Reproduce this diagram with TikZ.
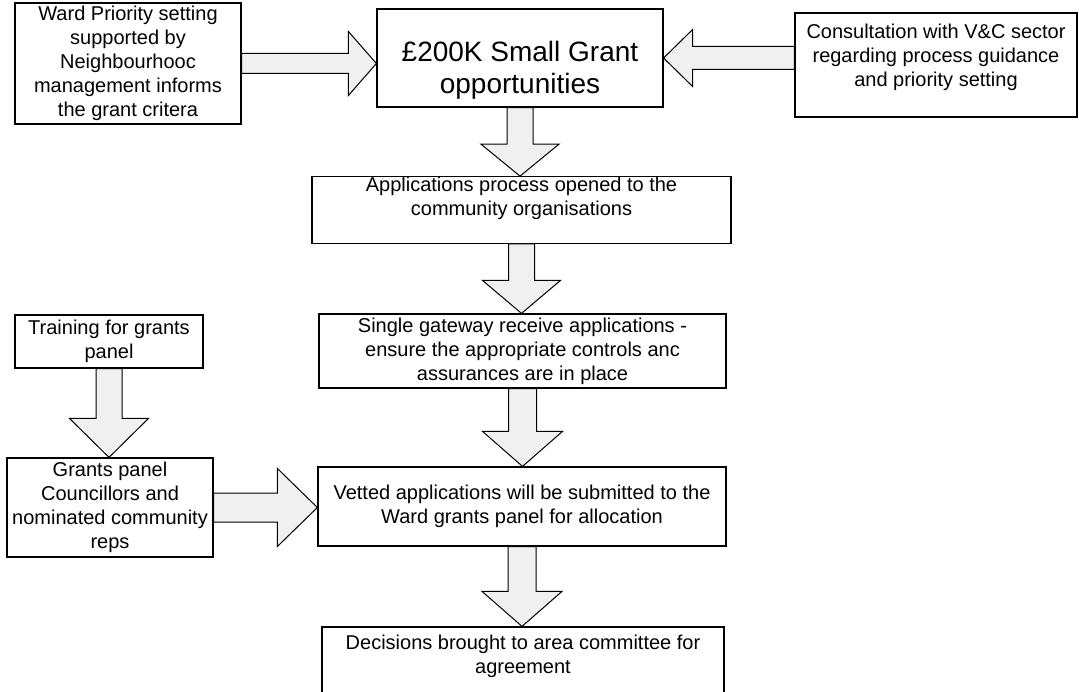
\documentclass[tikz,border=0pt]{standalone}
\usepackage{fontspec}
\setmainfont{Liberation Sans}
\usetikzlibrary{calc}
\definecolor{arrowfill}{RGB}{240, 240, 240}

% block arrow: #1 tail, #2 tip, #3 shaft half width, #4 head half width, #5 head length
\newcommand{\blockarrow}[5]{%
  \coordinate (ba-tail) at (#1);
  \coordinate (ba-tip) at (#2);
  \coordinate (ba-base) at ($(ba-tip)!#5!(ba-tail)$);
  \draw[blockarr] ($(ba-tail)!#3!90:(ba-tip)$) -- ($(ba-base)!#3!90:(ba-tip)$)
    -- ($(ba-base)!#4!90:(ba-tip)$) -- (ba-tip) -- ($(ba-base)!#4!-90:(ba-tip)$)
    -- ($(ba-base)!#3!-90:(ba-tip)$) -- ($(ba-tail)!#3!-90:(ba-tip)$) -- cycle;
}

\begin{document}
\begin{tikzpicture}[
    x=1pt, y=-1pt,
    box/.style={rectangle, draw, line width=1.2pt, align=center, inner sep=0pt,
                font=\fontsize{20}{24}\selectfont},
    blockarr/.style={draw, line width=1pt, fill=arrowfill, line join=miter}
  ]
  \useasboundingbox (0,0) rectangle (1079,692);
  \clip (0,0) rectangle (1079,692);

  % Nodes
  \node[box, minimum width=226, minimum height=121] (ward) at (128,63.5)
        {Ward Priority setting\\supported by\\Neighbourhooc\\management informs\\the grant critera};
  \node[box, minimum width=286, minimum height=98, font=\fontsize{28}{32}\selectfont] (grant) at (520,58)
        {\mbox{}\\[12pt]£200K Small Grant\\opportunities};
  \node[box, minimum width=282, minimum height=104] (consult) at (936,65)
        {Consultation with V\&C sector\\regarding process  guidance\\and priority setting\\[-4pt]\mbox{}};
  \node[box, minimum width=419, minimum height=62] (app) at (521.5,210)
        {Applications process opened to the\\community organisations\\[4pt]\mbox{}};
  \node[box, minimum width=407, minimum height=74] (gateway) at (522.5,351)
        {Single gateway receive applications -\\ensure the appropriate controls anc\\assurances are in place};
  \node[box, minimum width=408, minimum height=79] (vetted) at (522,506.5)
        {Vetted applications will be submitted to the\\Ward grants panel for allocation};
  \node[box, minimum width=402, minimum height=73] (decide) at (523,663.5)
        {Decisions brought to area committee for\\agreement\\[-6pt]\mbox{}};
  \node[box, minimum width=188, minimum height=53] (training) at (109,341.5)
        {Training for grants\\panel};
  \node[box, minimum width=206, minimum height=99] (panel) at (110,507.5)
        {Grants panel\\Councillors and\\nominated community\\reps};

  % Arrows
  \blockarrow{ward.east}{ward.east -| grant.west}{10pt}{32pt}{28pt}
  \blockarrow{consult.west |- grant.east}{grant.east}{11.5pt}{28.5pt}{29pt}
  \blockarrow{grant.south}{grant.south |- app.north}{13pt}{39pt}{32pt}
  \blockarrow{app.south}{app.south |- gateway.north}{13pt}{39pt}{33pt}
  \blockarrow{gateway.south}{gateway.south |- vetted.north}{14pt}{40pt}{35pt}
  \blockarrow{vetted.south}{vetted.south |- decide.north}{14pt}{40pt}{35pt}
  \blockarrow{training.south}{training.south |- panel.north}{13pt}{39.5pt}{39pt}
  \blockarrow{panel.east}{panel.east -| vetted.west}{14.5pt}{39pt}{40pt}
\end{tikzpicture}
\end{document}
